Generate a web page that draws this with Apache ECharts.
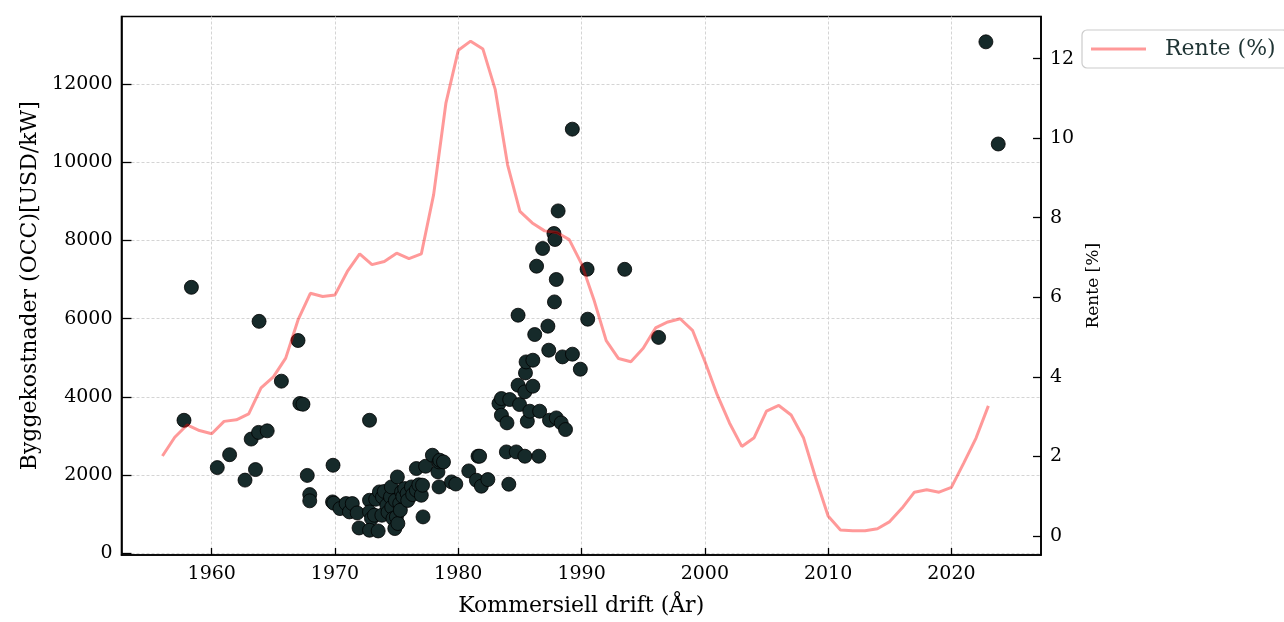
<!DOCTYPE html>
<html>
<head>
<meta charset="utf-8">
<script src="https://cdn.jsdelivr.net/npm/echarts@6/dist/echarts.min.js"></script>
<style>
  html, body { margin: 0; padding: 0; background: #ffffff; }
  #chart { width: 1284px; height: 622px; }
</style>
</head>
<body>
<div id="chart"></div>
<script>
// Annual interest rate (%)
const rateYears = [
  1956, 1957, 1958, 1959, 1960, 1961, 1962, 1963, 1964, 1965, 1966, 1967, 1968, 1969,
  1970, 1971, 1972, 1973, 1974, 1975, 1976, 1977, 1978, 1979, 1980, 1981, 1982, 1983,
  1984, 1985, 1986, 1987, 1988, 1989, 1990, 1991, 1992, 1993, 1994, 1995, 1996, 1997,
  1998, 1999, 2000, 2001, 2002, 2003, 2004, 2005, 2006, 2007, 2008, 2009, 2010, 2011,
  2012, 2013, 2014, 2015, 2016, 2017, 2018, 2019, 2020, 2021, 2022, 2023
];
const rateValues = [
  2.01, 2.48, 2.79, 2.65, 2.57, 2.88, 2.92, 3.07, 3.72, 4.00, 4.47, 5.43, 6.10, 6.02,
  6.06, 6.65, 7.09, 6.82, 6.90, 7.11, 6.97, 7.09, 8.58, 10.89, 12.21, 12.44, 12.24, 11.22,
  9.33, 8.16, 7.87, 7.67, 7.63, 7.45, 6.84, 5.94, 4.91, 4.46, 4.38, 4.72, 5.23, 5.38,
  5.46, 5.17, 4.39, 3.55, 2.84, 2.25, 2.47, 3.14, 3.28, 3.04, 2.47, 1.45, 0.50, 0.15,
  0.13, 0.13, 0.18, 0.36, 0.70, 1.10, 1.16, 1.10, 1.22, 1.83, 2.46, 3.27
];

// Reactors: start of commercial operation (year) and overnight construction cost (USD/kW)
const plantYears = [
  1957.75, 1958.35, 1960.45, 1961.45, 1962.7, 1963.2, 1963.55, 1963.8, 1963.84, 1964.5,
  1965.65, 1967.0, 1967.15, 1967.4, 1967.75, 1967.95, 1967.95, 1969.84, 1969.8, 1969.9,
  1970.4, 1970.9, 1971.17, 1971.4, 1971.8, 1971.95, 1972.8, 1972.8, 1972.8, 1972.96,
  1973.2, 1973.3, 1973.6, 1973.85, 1972.8, 1973.5, 1973.8, 1974.0, 1974.2, 1974.3,
  1974.5, 1974.57, 1974.6, 1974.7, 1974.85, 1974.9, 1974.98, 1975.06, 1975.1, 1975.25,
  1975.3, 1975.4, 1975.5, 1975.65, 1975.85, 1975.9, 1976.2, 1976.3, 1976.6, 1976.6,
  1976.8, 1977.0, 1977.1, 1977.14, 1977.35, 1977.9, 1978.35, 1978.44, 1978.44, 1978.5,
  1978.8, 1979.45, 1979.8, 1980.85, 1981.47, 1981.6, 1981.73, 1981.87, 1982.4, 1983.3,
  1983.5, 1983.5, 1983.9, 1983.95, 1984.1, 1984.17, 1984.7, 1984.85, 1984.85, 1984.97,
  1985.4, 1985.4, 1985.45, 1985.5, 1985.6, 1985.8, 1986.05, 1986.05, 1986.2, 1986.35,
  1986.53, 1986.6, 1986.84, 1987.27, 1987.34, 1987.4, 1987.76, 1987.84, 1987.8, 1987.95,
  1987.95, 1988.1, 1988.35, 1988.45, 1988.7, 1989.25, 1989.26, 1989.9, 1990.45, 1990.5,
  1993.5, 1996.25, 2022.8, 2023.8
];
const plantCosts = [
  3400, 6800, 2190, 2520, 1870, 2920, 2140, 3090, 5930, 3130,
  4400, 5440, 3830, 3810, 1990, 1500, 1340, 2250, 1313, 1280,
  1142, 1270, 1057, 1270, 1031, 647, 3400, 1355, 1057, 887,
  972, 1380, 1568, 1440, 588, 570, 972, 1580, 1228, 1050,
  1440, 1696, 1180, 887, 631, 1350, 929, 1951, 760, 1271,
  1100, 1568, 1450, 1654, 1526, 1350, 1696, 1500, 1611, 2166,
  1750, 1483, 1739, 929, 2225, 2506, 2080, 1696, 2335, 2378,
  2335, 1824, 1770, 2105, 1867, 2481, 2481, 1714, 1884, 3828,
  3956, 3529, 2591, 3333, 1765, 3931, 2591, 4297, 6087, 3803,
  4126, 2481, 4611, 4893, 3376, 3632, 4271, 4936, 5593, 7340,
  2481, 3632, 7793, 5806, 5192, 3402, 8176, 8023, 6427, 7000,
  3461, 8754, 3333, 5021, 3163, 10844, 5090, 4706, 7263, 5985,
  7260, 5519, 13077, 10465
];

// Tick positions
const yearTicks = [1960, 1970, 1980, 1990, 2000, 2010, 2020];
const costTicks = [0, 2000, 4000, 6000, 8000, 10000, 12000];
const rateTicks = [0, 2, 4, 6, 8, 10, 12];

const FONT = 'DejaVu Serif';

const chart = echarts.init(document.getElementById('chart'), null, { renderer: 'canvas' });

// plain numbers, no thousands separators
const plain = v => String(Math.round(v));
const tickLabel = { fontFamily: FONT, fontSize: 19, color: '#000000', formatter: plain };

chart.setOption({
  animation: false,
  backgroundColor: '#ffffff',
  grid: {
    left: 121.5, right: 243, top: 16.5, bottom: 67,
    show: true, borderColor: '#000000', borderWidth: 1.6, backgroundColor: 'transparent'
  },
  legend: {
    data: ['Rente (%)'],
    left: 1082, top: 30,
    orient: 'vertical',
    icon: 'rect',
    itemWidth: 55, itemHeight: 3,
    padding: [8, 12, 8, 9],
    borderColor: '#cccccc', borderWidth: 1.2, borderRadius: 5,
    backgroundColor: '#ffffff',
    textStyle: { fontFamily: FONT, fontSize: 22, color: '#1f3434', padding: [0, 0, 0, 14] }
  },
  xAxis: {
    type: 'value',
    min: 1952.68, max: 2027.27,
    name: 'Kommersiell drift (År)',
    nameLocation: 'middle', nameGap: 40,
    nameTextStyle: { fontFamily: FONT, fontSize: 22, color: '#000000' },
    axisLine: { show: true, onZero: false, lineStyle: { color: '#000000', width: 1.6 } },
    axisTick: { show: true, inside: true, length: 7, customValues: yearTicks,
                lineStyle: { color: '#000000', width: 1.3 } },
    axisLabel: Object.assign({ customValues: yearTicks, margin: 10 }, tickLabel),
    splitLine: { show: true, lineStyle: { color: '#d4d4d4', width: 1, type: [3, 2] } }
  },
  yAxis: [
    {
      type: 'value',
      min: -45, max: 13725,
      position: 'left',
      name: 'Byggekostnader (OCC)[USD/kW]',
      nameLocation: 'middle', nameGap: 80,
      nameTextStyle: { fontFamily: FONT, fontSize: 22, color: '#000000' },
      axisLine: { show: true, lineStyle: { color: '#000000', width: 1.6 } },
      axisTick: { show: true, inside: true, length: 10, customValues: costTicks,
                  lineStyle: { color: '#000000', width: 1.3 } },
      axisLabel: Object.assign({ customValues: costTicks, margin: 9 }, tickLabel),
      splitLine: { show: true, lineStyle: { color: '#d4d4d4', width: 1, type: [3, 2] } }
    },
    {
      type: 'value',
      min: -0.48, max: 13.06,
      position: 'right',
      name: 'Rente [%]',
      nameLocation: 'middle', nameGap: 42,
      nameRotate: 90,
      nameTextStyle: { fontFamily: FONT, fontSize: 17, color: '#000000' },
      axisLine: { show: true, lineStyle: { color: '#000000', width: 1.6 } },
      axisTick: { show: true, inside: true, length: 8, customValues: rateTicks,
                  lineStyle: { color: '#000000', width: 1.3 } },
      axisLabel: Object.assign({ customValues: rateTicks, margin: 9 }, tickLabel),
      splitLine: { show: false }
    }
  ],
  series: [
    {
      name: 'Byggekostnader',
      type: 'scatter',
      yAxisIndex: 0,
      symbolSize: 14,
      z: 2,
      itemStyle: { color: '#162a2a', borderColor: '#000000', borderWidth: 0.8, opacity: 1 },
      data: plantYears.map((yr, i) => [yr, plantCosts[i]])
    },
    {
      name: 'Rente (%)',
      type: 'line',
      yAxisIndex: 1,
      symbol: 'none',
      z: 3,
      itemStyle: { color: 'rgba(255,0,0,0.4)' },
      lineStyle: { color: 'rgba(255,0,0,0.4)', width: 3 },
      data: rateYears.map((yr, i) => [yr, rateValues[i]])
    }
  ]
});
</script>
</body>
</html>
